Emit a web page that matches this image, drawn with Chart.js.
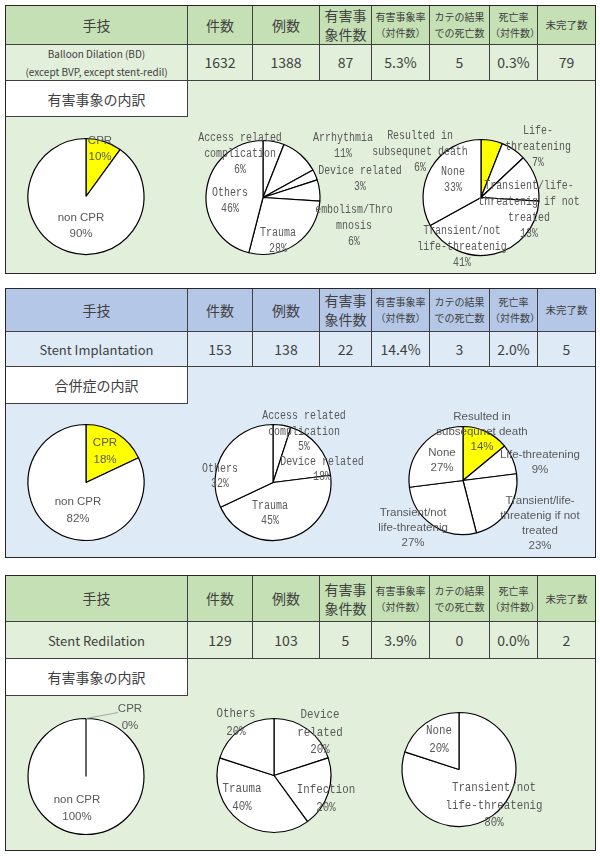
<!DOCTYPE html>
<html><head><meta charset="utf-8">
<script src="https://cdn.jsdelivr.net/npm/chart.js@4.4.0/dist/chart.umd.min.js"></script>
<style>
html,body{margin:0;padding:0;background:#fff;}
#root{position:relative;width:600px;height:860px;overflow:hidden;font-family:"Noto Sans CJK JP",sans-serif;color:#404040;}
.panel{position:absolute;left:5px;width:591px;box-sizing:border-box;border:1.5px solid #262626;}
.row{display:grid;grid-template-columns:182px 65px 67px 52px 58px 60px 48px 1fr;}
.cell{box-sizing:border-box;border-right:1px solid #404040;border-bottom:1px solid #404040;display:flex;align-items:center;justify-content:center;text-align:center;white-space:pre-line;font-size:14px;line-height:19px;}
.row .cell:last-child{border-right:none;}
.small{font-size:10px;line-height:16px;}
.r3{display:grid;grid-template-columns:182px 1fr;}
.r3 .lab{background:#fff;border-right:1px solid #404040;border-bottom:1px solid #404040;display:flex;align-items:center;justify-content:center;font-size:14px;box-sizing:border-box;}
canvas{position:absolute;left:0;}
</style></head>
<body><div id="root"></div>
<script>
// ---------- table data ----------
const headerLabels = ['手技','件数','例数','有害事\n象件数','有害事象率\n（対件数）','カテの結果\nでの死亡数','死亡率\n（対件数）','未完了数'];
const bdRow = ['Balloon Dilation (BD)\n(except BVP, except stent-redil)','1632','1388','87','5.3%','5','0.3%','79'];
const siRow = ['Stent Implantation','153','138','22','14.4%','3','2.0%','5'];
const srRow = ['Stent Redilation','129','103','5','3.9%','0','0.0%','2'];
const sectionTitles = ['有害事象の内訳','合併症の内訳','有害事象の内訳'];

// ---------- pie data ----------
const bdCprLabels = ['CPR','non CPR'];
const bdCprValues = [10,90];
const bdTypeLabels = ['Access related\ncomplication','Arrhythmia','Device related','embolism/Thro\nmnosis','Trauma','Others'];
const bdTypeValues = [6,11,3,6,28,46];
const bdSevLabels = ['Resulted in\nsubsequnet death','Life-\nthreatening','Transient/life-\nthreatenig if not\ntreated','Transient/not\nlife-threatenig','None'];
const bdSevValues = [6,7,13,41,33];

const siCprLabels = ['CPR','non CPR'];
const siCprValues = [18,82];
const siTypeLabels = ['Access related\ncomplication','Device related','Trauma','Others'];
const siTypeValues = [5,18,45,32];
const siSevLabels = ['Resulted in\nsubsequnet death','Life-threatening','Transient/life-\nthreatenig if not\ntreated','Transient/not\nlife-threatenig','None'];
const siSevValues = [14,9,23,27,27];

const srCprLabels = ['CPR','non CPR'];
const srCprValues = [0,100];
const srTypeLabels = ['Device\nrelated','Infection','Trauma','Others'];
const srTypeValues = [20,20,40,20];
const srSevLabels = ['Transient/not\nlife-threatenig','None'];
const srSevValues = [80,20];

// ---------- layout / style ----------
const YEL='#ffff00', WH='#ffffff';
const panelsCfg = [
  {top:5, height:269, hh:39, dh:36, rh:36, head:'#c5e0b4', light:'#e2efda', row:bdRow, title:sectionTitles[0], firstSmall:true},
  {top:288, height:270, hh:43, dh:35, rh:37, head:'#b4c7e7', light:'#deebf7', row:siRow, title:sectionTitles[1]},
  {top:575, height:276, hh:46, dh:37, rh:37, head:'#c5e0b4', light:'#e2efda', row:srRow, title:sectionTitles[2]}
];
const SANS='"Liberation Sans", Arial, sans-serif', MONO='"Liberation Mono", monospace';

const root=document.getElementById('root');
panelsCfg.forEach(p=>{
  const d=document.createElement('div');
  d.className='panel';
  d.style.top=p.top+'px'; d.style.height=p.height+'px'; d.style.background=p.light;
  const h=document.createElement('div'); h.className='row';
  headerLabels.forEach((t,i)=>{
    const c=document.createElement('div'); c.className='cell'+(i>=4?' small':'');
    if(i===7){c.style.fontSize='10.5px';}
    c.style.height=p.hh+'px'; c.style.background=p.head; c.textContent=t; h.appendChild(c);
  });
  d.appendChild(h);
  const r=document.createElement('div'); r.className='row';
  p.row.forEach((t,i)=>{
    const c=document.createElement('div'); c.className='cell';
    c.style.height=p.dh+'px'; c.textContent=t;
    if(i===0){ if(p.firstSmall){c.style.fontSize='10px';c.style.lineHeight='18px';} else {c.style.fontSize='13px';} }
    r.appendChild(c);
  });
  d.appendChild(r);
  const r3=document.createElement('div'); r3.className='r3';
  const lab=document.createElement('div'); lab.className='lab'; lab.style.height=p.rh+'px'; lab.textContent=p.title;
  r3.appendChild(lab); r3.appendChild(document.createElement('div'));
  d.appendChild(r3);
  root.appendChild(d);
  p.areaTop=p.top+1.5+p.hh+p.dh+p.rh;
  p.areaH=p.top+p.height-p.areaTop;
});

const labelPlugin={
  id:'pieLabels',
  afterDatasetsDraw(chart,args,o){
    const ctx=chart.ctx, meta=chart.getDatasetMeta(0);
    const arc0=meta.data[0]; const cx=arc0.x, cy=arc0.y, R=arc0.outerRadius;
    const ds=chart.data.datasets[0];
    ctx.save();
    if(o.leader){
      ctx.strokeStyle='#a6a6a6'; ctx.lineWidth=1;
      ctx.beginPath(); ctx.moveTo(cx,cy-R); ctx.lineTo(cx+o.leader[0],cy+o.leader[1]); ctx.stroke();
    }
    ctx.fillStyle='#595959'; ctx.textAlign='center'; ctx.textBaseline='middle';
    ctx.font=o.size+'px '+o.font;
    chart.data.labels.forEach((lb,i)=>{
      const lines=lb.split('\n').concat([ds.data[i]+'%']);
      const [dx,dy]=o.pos[i];
      lines.forEach((ln,j)=>{
        const y=cy+dy+(j-(lines.length-1)/2)*o.lh;
        ctx.save(); ctx.translate(cx+dx,y); ctx.scale(o.sx,1); ctx.fillText(ln,0,0); ctx.restore();
      });
    });
    ctx.restore();
  }
};

function pie(panelIdx, cx, cy, r, labels, values, colors, lab){
  const p=panelsCfg[panelIdx];
  const cv=document.createElement('canvas');
  cv.width=600; cv.height=Math.round(p.areaH);
  cv.style.top=p.areaTop+'px';
  root.appendChild(cv);
  const rr=r+0.6;
  new Chart(cv,{
    type:'pie',
    data:{labels:labels,datasets:[{data:values,backgroundColor:colors,borderColor:'#000',borderWidth:1.2,hoverOffset:0}]},
    options:{responsive:false,animation:false,events:[],
      layout:{padding:{left:cx-rr,right:600-cx-rr,top:cy-p.areaTop-rr,bottom:cv.height-(cy-p.areaTop)-rr}},
      plugins:{legend:{display:false},tooltip:{enabled:false},pieLabels:lab}},
    plugins:[labelPlugin]
  });
}

// Panel 1
pie(0,86,196,58,bdCprLabels,bdCprValues,[YEL,WH],{font:SANS,size:11.5,lh:16,sx:1,pos:[[14,-48],[-5,29]]});
pie(0,263,197,57,bdTypeLabels,bdTypeValues,[WH,WH,WH,WH,WH,WH],{font:MONO,size:12,lh:16,sx:0.83,pos:[[-23,-44],[80,-52],[97,-19],[91,28],[15,43],[-33,3]]});
pie(0,481,197,58,bdSevLabels,bdSevValues,[YEL,WH,WH,WH,WH],{font:MONO,size:12,lh:16,sx:0.83,pos:[[-61,-46],[57,-51],[48,12],[-19,49],[-28,-18]]});
// Panel 2
pie(1,86,482,58,siCprLabels,siCprValues,[YEL,WH],{font:SANS,size:11.5,lh:16.5,sx:1,pos:[[19,-31],[-8,28]]});
pie(1,273,482,58,siTypeLabels,siTypeValues,[WH,WH,WH,WH],{font:MONO,size:12,lh:15.5,sx:0.83,pos:[[31,-51],[49,-13],[-3,31],[-53,-6]]});
pie(1,463,480,54,siSevLabels,siSevValues,[YEL,WH,WH,WH,WH],{font:SANS,size:11.5,lh:15,sx:1,pos:[[19,-49],[77,-18],[77,43],[-50,47],[-21,-20]]});
// Panel 3
pie(2,86,776,58,srCprLabels,srCprValues,[YEL,WH],{font:SANS,size:11.5,lh:16.5,sx:1,pos:[[44,-59],[-9,32]],leader:[32,-64]});
pie(2,274,775,57,srTypeLabels,srTypeValues,[WH,WH,WH,WH],{font:MONO,size:13,lh:17.5,sx:0.83,pos:[[46,-43],[52,23],[-32,22],[-38,-53]]});
pie(2,459,769,57,srSevLabels,srSevValues,[WH,WH],{font:MONO,size:13,lh:17.5,sx:0.83,pos:[[35,36],[-20,-30]]});
</script>
</body></html>
